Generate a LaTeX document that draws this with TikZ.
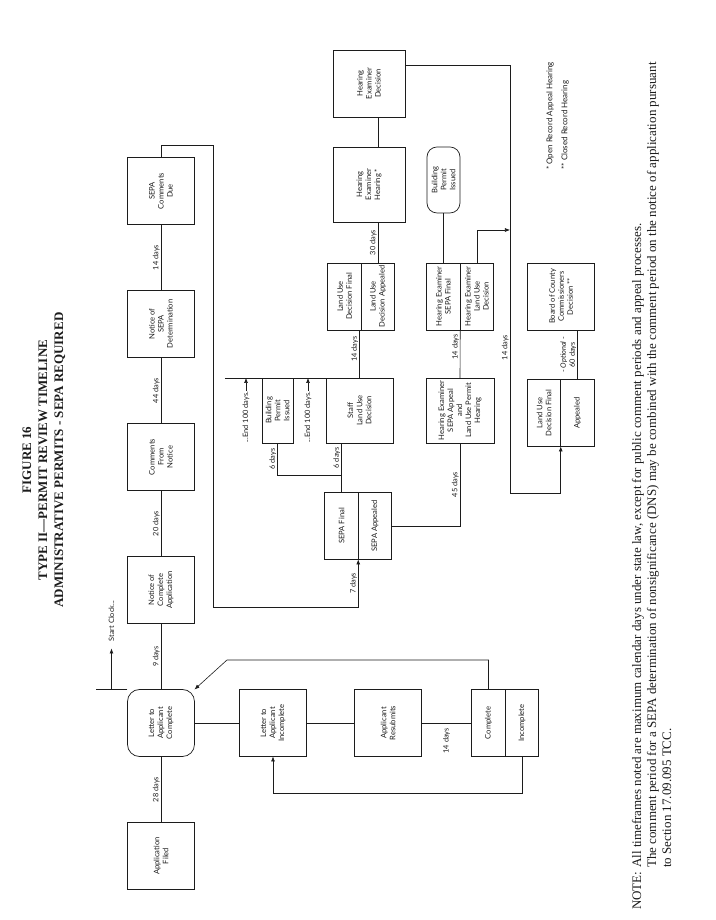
\documentclass[tikz,border=0pt]{standalone}
\usepackage{fontspec}
\setmainfont{Liberation Serif}
\newfontfamily\tlsans{Lato}
\usetikzlibrary{arrows.meta,positioning,calc}
\definecolor{TlInk}{RGB}{28,28,28}
\tikzset{
  tl/box/.style={
    draw=TlInk,
    line width=0.7pt,
    fill=white,
    align=center,
    text=TlInk,
    minimum width=67pt,
    minimum height=67pt,
    inner sep=2pt,
    outer sep=0pt,
    font=\tlsans\fontsize{7.6}{9}\selectfont
  },
  tl/rbox/.style={tl/box, rounded corners=12pt},
  tl/half/.style={tl/box, minimum height=33.5pt},
  tl/line/.style={draw=TlInk, line width=0.6pt},
  tl/arrow/.style={tl/line, -{Latex[length=5pt,width=4pt]}},
  tl/days/.style={font=\tlsans\fontsize{7.4}{8.5}\selectfont, text=TlInk, inner sep=1pt, anchor=south},
  tl/note/.style={font=\fontsize{13}{15}\selectfont, text=TlInk, anchor=base west, inner sep=0pt},
  tl/title/.style={font=\bfseries\fontsize{13}{16}\selectfont, text=TlInk, align=center},
  tl/tiny/.style={font=\tlsans\fontsize{8}{9}\selectfont, text=TlInk, anchor=west, inner sep=0pt}
}

\begin{document}
\begin{tikzpicture}[x=1pt,y=1pt]
\begin{scope}[rotate=90,transform shape]
  \useasboundingbox (0,0) rectangle (920,715);
  % heading
  \node[tl/title] (ttl) at (460,671) {FIGURE 16\\TYPE II---PERMIT REVIEW TIMELINE\\ADMINISTRATIVE PERMITS - SEPA REQUIRED};

  % main timeline
  \node[tl/box] (af) at (64,554) {Application\\Filed};
  \node[tl/rbox] (lac) at (197,554) {Letter to\\Applicant\\Complete};
  \node[tl/box] (nca) at (330,554) {Notice of\\Complete\\Application};
  \node[tl/box] (cfn) at (463,554) {Comments\\From\\Notice};
  \node[tl/box] (nsd) at (596,554) {Notice of\\SEPA\\Determination};
  \node[tl/box] (scd) at (729,554) {SEPA\\Comments\\Due};
  \foreach \a/\b/\d in {af/lac/28,lac/nca/9,nca/cfn/20,cfn/nsd/44,nsd/scd/14}{\draw[tl/line] (\a) -- node[tl/days]{\d\ days} (\b);}
  \draw[tl/line] (lac.north east) -- ++(0,31);
  \draw[tl/arrow] ([yshift=16pt]lac.north east) -- ++(41,0) node[tl/days, right=6pt]{Start Clock...};

  % completeness loop
  \node[tl/box] (lai) at (197,442) {Letter to\\Applicant\\Incomplete};
  \node[tl/box] (ars) at (197,327) {Applicant\\Resubmits};
  \node[tl/half] (cmp) at (197,226.5) {Complete};
  \node[tl/half, below=0pt of cmp] (inc) {Incomplete};
  \coordinate (cbend) at (260,488);
  \draw[tl/line] (lac) -- (lai);
  \draw[tl/line] (lai) -- (ars);
  \draw[tl/line] (ars) -- node[tl/days, anchor=east, inner sep=5pt]{14 days} (cmp);
  \draw[tl/arrow] (cmp.east) -| (cbend) -- (lac.south east);
  \draw[tl/arrow] (inc.west) -- ++(-36.5,0) |- (lai.west);

  % SEPA branch
  \coordinate (sbend) at (313,502);
  \node[tl/half] (sf) at (394,373.5) {SEPA Final};
  \node[tl/half, below=0pt of sf] (sa) {SEPA Appealed};
  \draw[tl/arrow] (scd.east) -- ++(12.5,0) |- (sbend) |- node[tl/days,pos=0.75]{7 days} (sf.south west);
  \node[tl/box, minimum height=31pt, minimum width=65pt] (bp1) at (509.5,437.5) {Building\\Permit\\Issued};
  \node[tl/box, minimum width=65pt] (sld) at (509.5,355.5) {Staff\\Land Use\\Decision};
  \coordinate (sfork) at (445,373.5);
  \draw[tl/line] (sf.east) -- node[tl/days,pos=0.7]{6 days} (sf.east -| sld.west);
  \draw[tl/line] (sfork) |- node[tl/days,pos=0.75]{6 days} (bp1.west);
  \coordinate (endtop) at (542,490);
  \draw[tl/line] (endtop) -- (sld.east);
  \node[tl/days, anchor=west] (end1) at (476,469) {...End 100 days.};
  \node[tl/days, anchor=west] (end2) at (476,407) {...End 100 days.};
  \draw[tl/arrow] (end1.east) -- (end1.east -| endtop);
  \draw[tl/arrow] (end2.east) -- (end2.east -| endtop);

  % land use decision and hearing
  \node[tl/half] (luf) at (623.5,370.5) {Land Use\\Decision Final};
  \node[tl/half, below=0pt of luf] (lua) {Land Use\\Decision Appealed};
  \draw[tl/line] (sld.east) -- node[tl/days,pos=0.6]{14 days} (sld.east -| luf.west);
  \node[tl/box, minimum width=75pt, minimum height=72pt] (heh) at (735.5,346) {Hearing\\Examiner\\Hearing *};
  \node[tl/box, minimum height=72pt] (hed) at (836.5,346) {Hearing\\Examiner\\Decision};
  \draw[tl/line] (lua.east) -- node[tl/days]{30 days} (lua.east -| heh.west);
  \draw[tl/line] (heh.east |- lua.east) -- (lua.east -| hed.west);

  % SEPA appeal
  \node[tl/box, minimum width=65pt, minimum height=68pt] (hesa) at (509.5,255) {Hearing Examiner\\SEPA Appeal\\and\\Land Use Permit\\Hearing};
  \draw[tl/line] (sa.south) |- node[tl/days,pos=0.75]{45 days} (hesa.west);
  \node[tl/half] (hsf) at (623.5,271.5) {Hearing Examiner\\SEPA Final};
  \node[tl/half, below=0pt of hsf] (helu) {Hearing Examiner\\Land Use\\Decision};
  \draw[tl/line] (hesa.east) -- node[tl/days,pos=0.65]{14 days} (hsf.south west);
  \node[tl/rbox, minimum height=33pt, minimum width=66pt, rounded corners=10pt] (bp2) at (740,271.5) {Building\\Permit\\Issued};
  \draw[tl/line] (hsf.east) -- (bp2.west);

  % council
  \node[tl/half] (lf2) at (507,171) {Land Use\\Decision Final};
  \node[tl/half, below=0pt of lf2] (la2) {Appealed};
  \node[tl/box] (bcc) at (623.5,154) {Board of County\\Commissioners\\Decision **};
  \draw[tl/line] (la2.east) -- node[tl/days]{60 days} node[tl/days, above=9pt]{- \textit{Optional} -} (la2.east -| bcc.west);
  \coordinate (jn1) at (690,205);
  \coordinate (jn2) at (427,205);
  \draw[tl/arrow] ([xshift=18.5pt]hed.south) |- node[tl/days,pos=0.83]{14 days} (jn2) |- (lf2.south west);
  \draw[tl/arrow] (helu.east) -| (jn1);

  \node[tl/tiny] (fn1) at (750,165) {* Open Record Appeal Hearing};
  \node[tl/tiny] (fn2) at (750,150) {** Closed Record Hearing};

  % note
  \node[tl/note] (nt0) at (10,74) {NOTE:};
  \node[tl/note] (nt1) at (52,74) {All timeframes noted are maximum calendar days under state law, except for public comment periods and appeal processes.};
  \node[tl/note] (nt2) at (52,59) {The comment period for a SEPA determination of nonsignificance (DNS) may be combined with the comment period on the notice of application pursuant};
  \node[tl/note] (nt3) at (52,44) {to Section 17.09.095 TCC.};
\end{scope}
\end{tikzpicture}
\end{document}
